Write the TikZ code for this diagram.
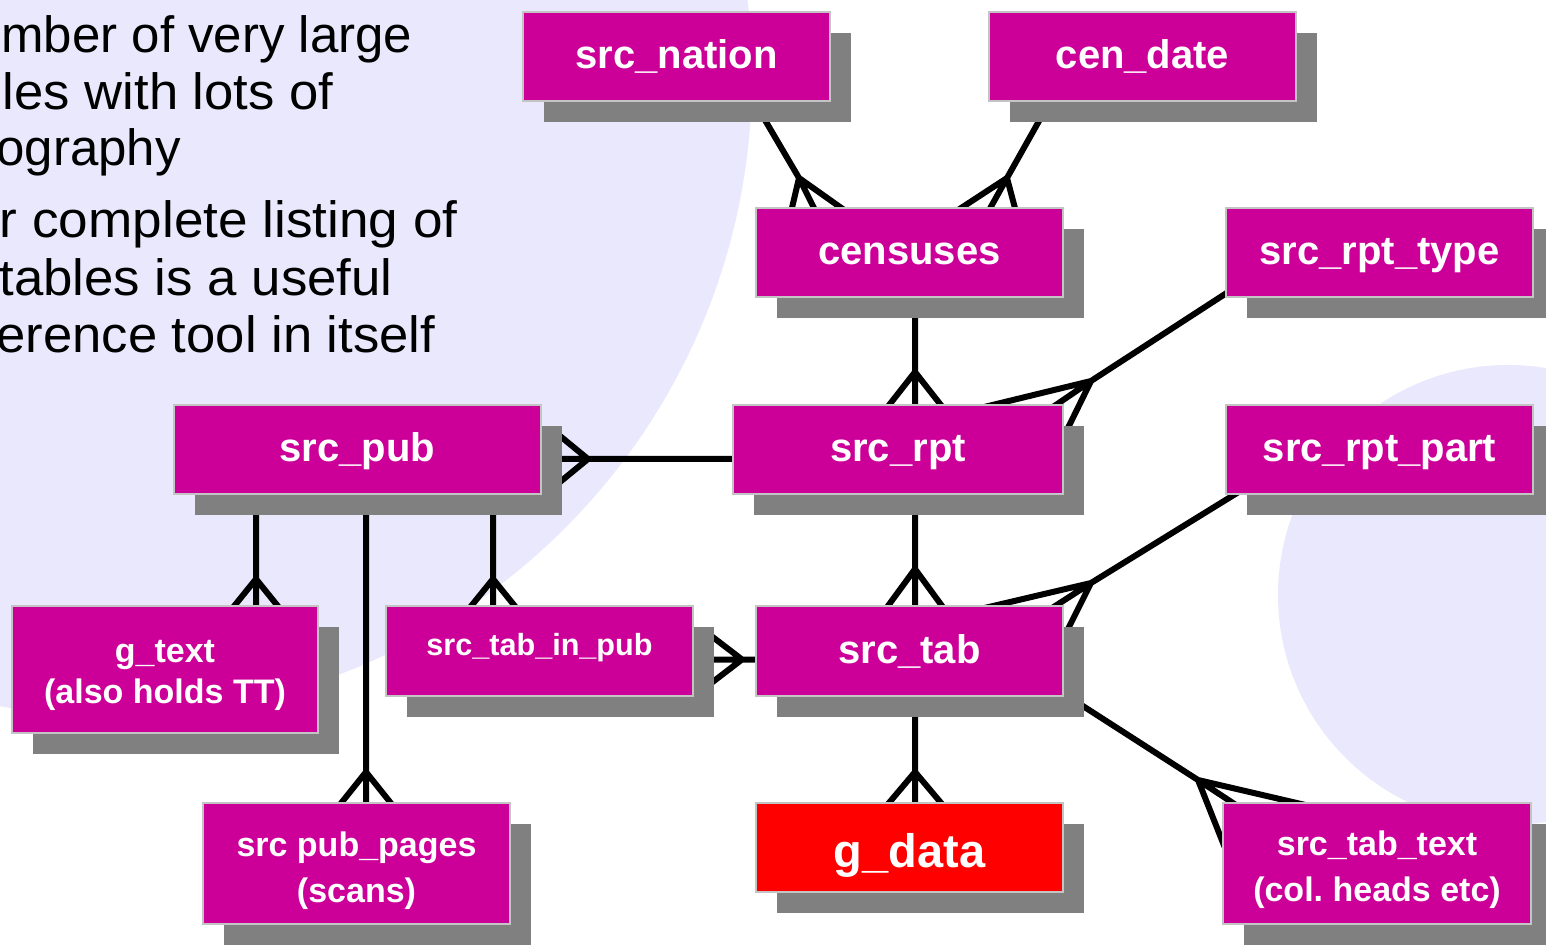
\documentclass[tikz,border=0pt]{standalone}
\usepackage{fontspec}
\setmainfont{Liberation Sans}
\usetikzlibrary{calc,shadows}
\definecolor{mag}{RGB}{204,0,153}
\definecolor{lav}{RGB}{234,232,252}
\definecolor{shd}{RGB}{128,128,128}
\definecolor{bord}{RGB}{196,196,196}
\pgfdeclarelayer{back}
\pgfdeclarelayer{edges}
\pgfsetlayers{back,edges,main}
\newcommand\crowconn[5]{\draw[conn] #1 -- #2 -- #4 #3 -- #2 -- #5;}
\frenchspacing
\begin{document}
\begin{tikzpicture}[x=0.5pt,y=-0.5pt,
  tbl/.style={draw=bord, line width=1pt, fill=mag, text=white, inner sep=0pt,
    align=center, minimum width=153.5pt, minimum height=44.5pt,
    drop shadow={shadow xshift=10.5pt, shadow yshift=-10.5pt, fill=shd, opacity=1}},
  lbl/.style={font=\bfseries\fontsize{20}{24}\selectfont, text height=14.6pt, text depth=2.4pt},
  smalllbl/.style={font=\bfseries\fontsize{15.3}{18}\selectfont, text height=11.2pt, text depth=7.2pt},
  biglbl/.style={font=\bfseries\fontsize{23.5}{28}\selectfont, text height=19.5pt, text depth=0pt},
  twolbl/.style={font=\bfseries\fontsize{17}{23}\selectfont},
  bodytext/.style={anchor=base west, inner sep=0pt, font=\fontsize{25.5}{29}\selectfont, text=black},
  conn/.style={line width=3pt, draw=black}]
\useasboundingbox (0,0) rectangle (1546,945);

\begin{pgfonlayer}{back}
  \clip (0,0) rectangle (1546,945);
  \fill[lav] (112,76) circle [radius=320pt];
  \fill[lav] (1508,595) circle [radius=115pt];
\end{pgfonlayer}

% text at top left
\node[bodytext] (t1) at (1,53) {mber of very large};
\node[bodytext] (t2) at (2.5,110) {\scalebox{1.032}[1]{les with lots of}};
\node[bodytext] (t3) at (-4,166) {ography};
\node[bodytext] (t4) at (-0.5,238) {\scalebox{1.042}[1]{r complete listing of}};
\node[bodytext] (t5) at (-1,296) {\scalebox{1.035}[1]{tables is a useful}};
\node[bodytext] (t6) at (-4,353) {\scalebox{1.032}[1]{erence tool in itself}};

% tables
\node[tbl,lbl] (srcnation) at (676.5,56.5) {src\_nation};
\node[tbl,lbl] (cendate) at (1142.5,56.5) {cen\_date};
\node[tbl,lbl] (censuses) at (909.5,252.5) {censuses};
\node[tbl,lbl] (srcrpttype) at (1379.5,252.5) {src\_rpt\_type};
\node[tbl,lbl,minimum width=183.5pt] (srcpub) at (357.5,449.5) {src\_pub};
\node[tbl,lbl,minimum width=165pt] (srcrpt) at (898,449.5) {src\_rpt};
\node[tbl,lbl] (srcrptpart) at (1379.5,449.5) {src\_rpt\_part};
\node[tbl,twolbl,font=\bfseries\fontsize{17}{20.5}\selectfont,minimum width=153pt,minimum height=63.5pt] (gtext) at (165,669.5) {\rule{0pt}{16.6pt}g\_text\\(also holds TT)};
\node[tbl,smalllbl,minimum height=45pt] (srctabinpub) at (539.5,651) {src\_tab\_in\_pub};
\node[tbl,lbl,minimum height=45pt] (srctab) at (909.5,651) {src\_tab};
\node[tbl,twolbl,minimum height=60.5pt] (srcpubpages) at (356.5,863.5) {\rule{0pt}{19.1pt}src pub\_pages\\(scans)};
\node[tbl,biglbl,fill=red] (gdata) at (909.5,847.5) {g\_data};
\node[tbl,twolbl,minimum width=154pt,minimum height=60.5pt] (srctabtext) at (1377,863.5) {\rule{0pt}{18.1pt}src\_tab\_text\\(col. heads etc)};

% junctions of the crow's feet
\coordinate (j1) at ($(censuses.north west)+(44,-29)$);
\coordinate (j2) at ($(censuses.north east)+(-57,-29)$);
\coordinate (j3) at ($(srcrpt.north)+(17,-32)$);
\coordinate (j4) at ($(srcrpt.north east)+(27,-23)$);
\coordinate (j5) at ($(srctab.north)+(5.5,-36)$);
\coordinate (j6) at ($(srctab.north east)+(27,-22)$);
\coordinate (j7) at ($(srctabtext.north west)+(-24,-22)$);
\coordinate (j8) at ($(gdata.north)+(5.5,-30)$);
\coordinate (j9) at ($(srcpub.east)+(46,9.5)$);
\coordinate (j10) at ($(gtext.north)+(91,-26)$);
\coordinate (j11) at ($(srctabinpub.north)+(-46.5,-26)$);
\coordinate (j12) at ($(srcpubpages.north)+(9.5,-30)$);
\coordinate (j13) at ($(srctabinpub.east)+(48,8.5)$);

\begin{pgfonlayer}{edges}
  \crowconn{($(srcnation.south)+(72,-10)$)}{(j1)}
    {($(censuses.north west)+(36,5)$)}{($(censuses.north west)+(61,5)$)}{($(censuses.north west)+(92,5)$)}
  \crowconn{($(cendate.south)+(-85.5,-13)$)}{(j2)}
    {($(censuses.north east)+(-109,5)$)}{($(censuses.north east)+(-76,5)$)}{($(censuses.north east)+(-48,5)$)}
  \crowconn{($(censuses.south)+(5.5,0)$)}{(j3)}
    {($(srcrpt.north)+(-12,5)$)}{($(srcrpt.north)+(17,5)$)}{($(srcrpt.north)+(46,5)$)}
  \crowconn{($(srcrpttype.west)+(17,30.5)$)}{(j4)}
    {($(srcrpt.north east)+(-88,5)$)}{($(srcrpt.north east)+(-14,5)$)}{($(srcrpt.north east)+(2,28)$)}
  \crowconn{($(srcrpt.south)+(17,0)$)}{(j5)}
    {($(srctab.north)+(-24.5,5)$)}{($(srctab.north)+(5.5,5)$)}{($(srctab.north)+(35.5,5)$)}
  \crowconn{($(srcrptpart.west)+(25,35.5)$)}{(j6)}
    {($(srctab.north east)+(-88,5)$)}{($(srctab.north east)+(-15,5)$)}{($(srctab.north east)+(2,28)$)}
  \crowconn{($(srctab.south east)+(1,-2.5)$)}{(j7)}
    {($(srctabtext.north west)+(92,5)$)}{($(srctabtext.north west)+(17,5)$)}{($(srctabtext.north west)+(5,51)$)}
  \crowconn{($(srctab.south)+(5.5,0)$)}{(j8)}
    {($(gdata.north)+(-24,5)$)}{($(gdata.north)+(5.5,5)$)}{($(gdata.north)+(35,5)$)}
  \crowconn{($(srcrpt.west)+(2,9.5)$)}{(j9)}
    {($(srcpub.east)+(18,-13.5)$)}{($(srcpub.east)+(18,9.5)$)}{($(srcpub.east)+(18,32.5)$)}
  \crowconn{($(srcpub.south)+(-101.5,0)$)}{(j10)}
    {($(gtext.north)+(66,5)$)}{($(gtext.north)+(91,5)$)}{($(gtext.north)+(116,5)$)}
  \crowconn{($(srcpub.south)+(135.5,0)$)}{(j11)}
    {($(srctabinpub.north)+(-71.5,5)$)}{($(srctabinpub.north)+(-46.5,5)$)}{($(srctabinpub.north)+(-21.5,5)$)}
  \crowconn{($(srcpub.south)+(8.5,0)$)}{(j12)}
    {($(srcpubpages.north)+(-18.5,5)$)}{($(srcpubpages.north)+(9.5,5)$)}{($(srcpubpages.north)+(37.5,5)$)}
  \crowconn{($(srctab.west)+(2,8.5)$)}{(j13)}
    {($(srctabinpub.east)+(18,-14.5)$)}{($(srctabinpub.east)+(18,8.5)$)}{($(srctabinpub.east)+(18,31.5)$)}
\end{pgfonlayer}
\end{tikzpicture}
\end{document}
